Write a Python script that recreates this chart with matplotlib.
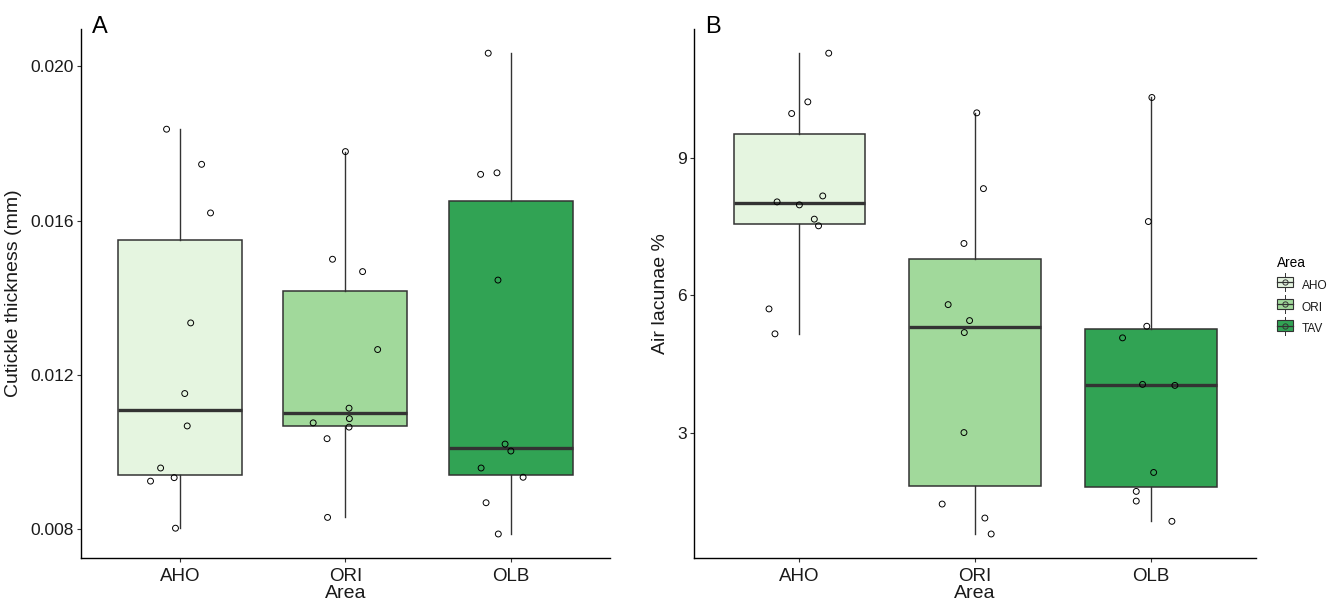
import matplotlib
matplotlib.use("Agg")
import matplotlib.pyplot as plt
from matplotlib.patches import Patch, Rectangle
from matplotlib.lines import Line2D
from matplotlib.legend_handler import HandlerBase

plt.rcParams['font.family'] = ['Liberation Sans', 'DejaVu Sans']

areas = ['AHO', 'ORI', 'OLB']
legend_labels = ['AHO', 'ORI', 'TAV']
fills = ['#e5f5e0', '#a1d99b', '#31a354']

# panel A: cuticle thickness (mm), 10 leaves per area
cut_aho = [0.01837, 0.01746, 0.01620, 0.01335, 0.01152, 0.01068, 0.00959, 0.00925, 0.00934, 0.00803]
cut_ori = [0.01779, 0.01500, 0.01468, 0.01266, 0.01114, 0.01087, 0.01076, 0.01065, 0.01035, 0.00831]
cut_olb = [0.02034, 0.01720, 0.01724, 0.01446, 0.01021, 0.01003, 0.00959, 0.00935, 0.00869, 0.00788]
# horizontal jitter
jit_cut_aho = [-0.082, 0.130, 0.184, 0.064, 0.028, 0.043, -0.118, -0.179, -0.036, -0.028]
jit_cut_ori = [0.000, -0.078, 0.104, 0.195, 0.022, 0.024, -0.195, 0.022, -0.111, -0.108]
jit_cut_olb = [-0.136, -0.182, -0.083, -0.077, -0.034, 0.001, -0.179, 0.075, -0.149, -0.075]

# panel B: air lacunae %
air_aho = [11.30, 10.235, 9.98, 8.177, 8.047, 7.981, 7.669, 7.523, 5.705, 5.160]
air_ori = [9.995, 8.337, 7.137, 5.799, 5.450, 5.188, 3.000, 1.436, 1.130, 0.781]
air_olb = [10.331, 7.617, 5.326, 5.072, 4.054, 4.032, 2.127, 1.713, 1.501, 1.058]
jit_air_aho = [0.167, 0.048, -0.044, 0.133, -0.127, 0.000, 0.085, 0.109, -0.173, -0.139]
jit_air_ori = [0.010, 0.048, -0.063, -0.153, -0.031, -0.061, -0.063, -0.187, 0.056, 0.092]
jit_air_olb = [0.007, -0.013, -0.022, -0.160, -0.046, 0.138, 0.017, -0.082, -0.082, 0.121]

EDGE = '#333333'
TXT = '#1a1a1a'


class BoxKey(HandlerBase):
    # ggplot-like boxplot key: box, median, whiskers and a point
    def create_artists(self, legend, orig, xd, yd, w, h, fontsize, trans):
        cx, cy = xd + w / 2, yd + h / 2
        rect = Rectangle((xd, yd), w, h, facecolor=orig.get_facecolor(),
                         edgecolor=EDGE, linewidth=0.8, transform=trans)
        med = Line2D([xd, xd + w], [cy, cy], color=EDGE, linewidth=0.9,
                     transform=trans)
        up = Line2D([cx, cx], [yd + h, yd + h * 1.35], color=EDGE,
                    linewidth=0.7, transform=trans)
        dn = Line2D([cx, cx], [yd - h * 0.35, yd], color=EDGE,
                    linewidth=0.7, transform=trans)
        pt = Line2D([cx], [cy], marker='o', markersize=3.8,
                    markerfacecolor='none', markeredgecolor=EDGE,
                    markeredgewidth=0.7, linestyle='none', transform=trans)
        return [rect, med, up, dn, pt]


def panel(ax, groups, jitters, yticks, ylabel, tag):
    pos = [1, 2, 3]
    bp = ax.boxplot(groups, positions=pos, widths=0.75, patch_artist=True,
                    showfliers=False, whis=1.5,
                    boxprops=dict(edgecolor=EDGE, linewidth=1.1),
                    whiskerprops=dict(color=EDGE, linewidth=1.0),
                    capprops=dict(linewidth=0),
                    medianprops=dict(color=EDGE, linewidth=2.4))
    for patch, c in zip(bp['boxes'], fills):
        patch.set_facecolor(c)
    for p, vals, jit in zip(pos, groups, jitters):
        xs = [p + j for j in jit]
        ax.scatter(xs, vals, s=18, facecolors='none', edgecolors='black',
                   linewidths=0.7, zorder=5)
    allv = [v for g in groups for v in g]
    lo, hi = min(allv), max(allv)
    r = hi - lo
    ax.set_ylim(lo - 0.05 * r, hi + 0.05 * r)
    ax.set_xlim(0.4, 3.6)
    ax.set_xticks(pos)
    ax.set_xticklabels(areas)
    ax.set_yticks(yticks)
    ax.tick_params(axis='both', length=3, width=0.8, color=EDGE,
                   labelsize=12.5, labelcolor=TXT, pad=2)
    ax.tick_params(axis='x', labelsize=13.5, pad=4)
    for s in ['top', 'right']:
        ax.spines[s].set_visible(False)
    for s in ['left', 'bottom']:
        ax.spines[s].set_linewidth(1.0)
        ax.spines[s].set_color('black')
    ax.set_xlabel('Area', fontsize=14, color=TXT, labelpad=0)
    ax.set_ylabel(ylabel, fontsize=14, color=TXT, labelpad=6)
    ax.text(0.02, 1.005, tag, transform=ax.transAxes, fontsize=17,
            va='center', ha='left', color='black')


fig = plt.figure(figsize=(13.29, 6.01), dpi=100)
axA = fig.add_axes([0.0609, 0.0715, 0.398, 0.880])
axB = fig.add_axes([0.5222, 0.0715, 0.4229, 0.880])

panel(axA, [cut_aho, cut_ori, cut_olb], [jit_cut_aho, jit_cut_ori, jit_cut_olb],
      [0.008, 0.012, 0.016, 0.020], 'Cutickle thickness (mm)', 'A')
axA.set_yticklabels(['0.008', '0.012', '0.016', '0.020'])
panel(axB, [air_aho, air_ori, air_olb], [jit_air_aho, jit_air_ori, jit_air_olb],
      [3, 6, 9], 'Air lacunae %', 'B')

handles = [Patch(facecolor=c) for c in fills]
leg = fig.legend(handles, legend_labels, title='Area', loc='upper left',
                 bbox_to_anchor=(1277 / 1329, 1 - 256 / 601), frameon=False,
                 fontsize=8.6, title_fontsize=9.8, handlelength=1.35,
                 handleheight=1.0, handletextpad=0.7, labelspacing=0.78,
                 borderaxespad=0, borderpad=0,
                 handler_map={Patch: BoxKey()})
leg._legend_box.align = 'left'
for t in leg.get_texts():
    t.set_color(TXT)

fig.savefig('out.png', dpi=100)
